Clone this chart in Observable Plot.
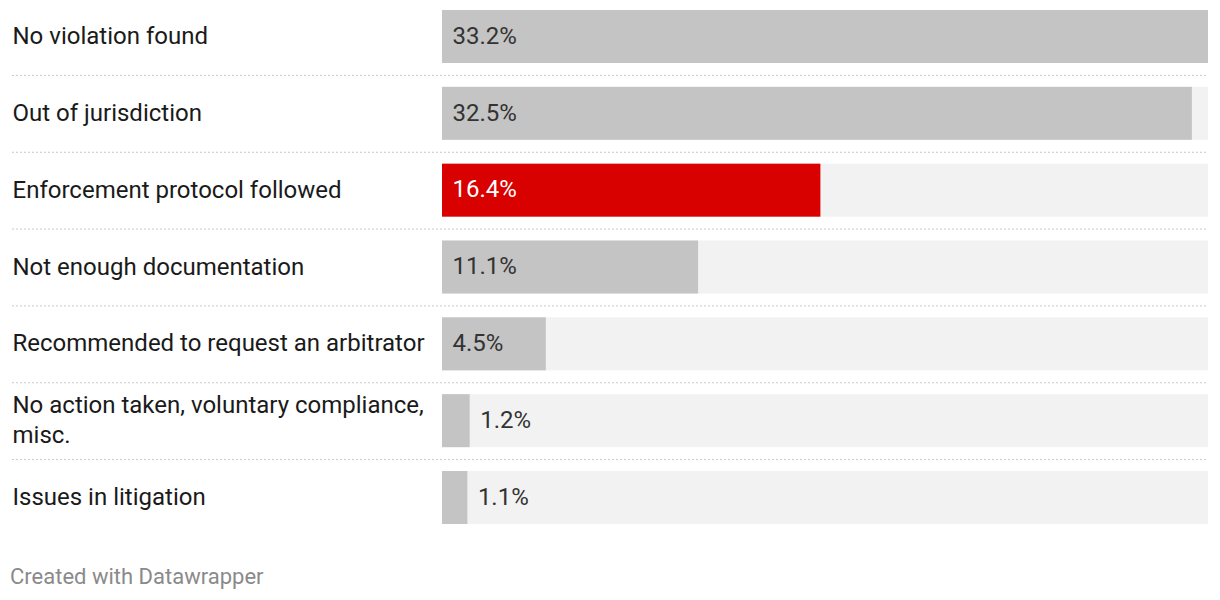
<!DOCTYPE html>
<html>
<head>
<meta charset="utf-8">
<script src="https://cdn.jsdelivr.net/npm/d3@7"></script>
<script src="https://cdn.jsdelivr.net/npm/@observablehq/plot@0.6"></script>
<style>
  html, body { margin: 0; padding: 0; background: #fff; }
  body { width: 1220px; height: 600px; overflow: hidden; font-family: Roboto, sans-serif; }
  #footer { position: absolute; left: 10px; top: 566px; font-size: 22px; color: #8a8a8a; font-family: Roboto, sans-serif; line-height: 1; }
</style>
</head>
<body>
<div id="chart"></div>
<div id="footer">Created with Datawrapper</div>
<script>
const categories = [
  "No violation found",
  "Out of jurisdiction",
  "Enforcement protocol followed",
  "Not enough documentation",
  "Recommended to request an arbitrator",
  "No action taken, voluntary compliance,\nmisc.",
  "Issues in litigation"
];
const values = [33.2, 32.5, 16.4, 11.1, 4.5, 1.2, 1.1];
const highlighted = ["Enforcement protocol followed"];

const data = categories.map((c, i) => ({category: c, value: values[i], hl: highlighted.includes(c)}));
const maxVal = d3.max(values);
const inside = d => d.value > 3;

const yRange = [10, 524];
const padIn = 0.31;
const step = (yRange[1] - yRange[0]) / (categories.length - padIn);

const chart = Plot.plot({
  width: 1220,
  height: 540,
  marginLeft: 442,
  marginRight: 12,
  marginTop: 0,
  marginBottom: 0,
  style: {fontFamily: "Roboto, sans-serif", background: "#fff"},
  x: {domain: [0, maxVal], axis: null},
  y: {domain: categories, range: yRange, paddingInner: padIn, paddingOuter: 0, round: false, axis: null},
  marks: [
    Plot.barX(data, {y: "category", x1: 0, x2: maxVal, fill: "#f2f2f2"}),
    Plot.barX(data, {y: "category", x1: 0, x2: "value", fill: d => d.hl ? "#d90000" : "#c4c4c4"}),
    Plot.ruleY(data.slice(0, -1), {y: "category", dy: step / 2, stroke: "#c8c8c8", strokeWidth: 1, strokeDasharray: "2,2", insetLeft: -430}),
    Plot.text(data, {y: "category", frameAnchor: "left", dx: -430, dy: -2.5, text: "category", textAnchor: "start", fontSize: 24, lineHeight: 1.25, fill: "#1a1a1a"}),
    Plot.text(data, {
      y: "category",
      x: d => inside(d) ? 0 : d.value,
      dx: 10,
      dy: -1,
      text: d => d.value.toFixed(1) + "%",
      textAnchor: "start",
      fontSize: 24,
      fill: d => d.hl ? "#ffffff" : "#333333"
    })
  ]
});
document.getElementById("chart").appendChild(chart);
</script>
</body>
</html>
